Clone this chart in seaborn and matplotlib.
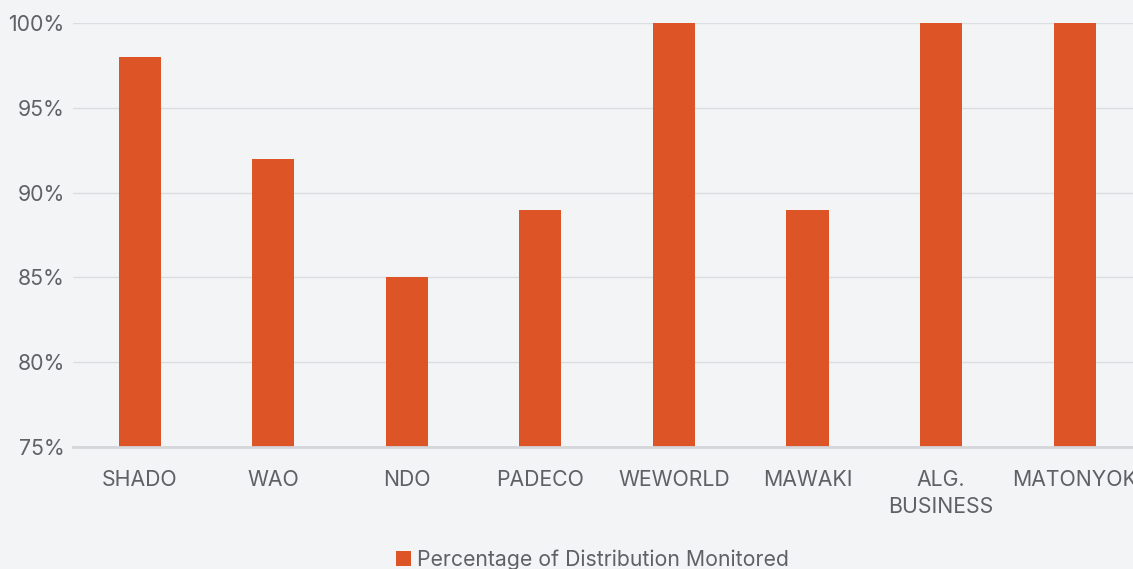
import numpy as np
import pandas as pd
import matplotlib
matplotlib.use('Agg')
import matplotlib.pyplot as plt
import seaborn as sns
from matplotlib.ticker import FuncFormatter

# data
partners = ['SHADO', 'WAO', 'NDO', 'PADECO', 'WEWORLD', 'MAWAKI', 'ALG.\nBUSINESS', 'MATONYOK']
monitored = [98, 92, 85, 89, 100, 89, 100, 100]
series_name = 'Percentage of Distribution Monitored'

df = pd.DataFrame({'partner': partners, 'pct': monitored, 'series': series_name})

bg = '#f3f4f6'
bar_color = '#dd5527'
text_color = '#5f6165'

sns.set_style('white')
plt.rcParams['font.family'] = ['Inter', 'DejaVu Sans']

fig = plt.figure(figsize=(11.33, 5.69), dpi=100, facecolor=bg)
ax = fig.add_axes([0.0644, 0.2144, 0.943, 0.7452])
ax.set_facecolor(bg)

sns.barplot(data=df, x='partner', y='pct', hue='series', palette=[bar_color],
            width=0.315, saturation=1, linewidth=0, ax=ax, zorder=3)

ax.set_ylim(75, 100)
ax.set_yticks([75, 80, 85, 90, 95, 100])
ax.yaxis.set_major_formatter(FuncFormatter(lambda v, p: f'{v:.0f}%'))
ax.grid(axis='y', color='#dcdde0', linewidth=1, zorder=0)
ax.set_xlabel('')
ax.set_ylabel('')

for s in ['top', 'right', 'left']:
    ax.spines[s].set_visible(False)
ax.spines['bottom'].set_color('#d5d6d9')
ax.spines['bottom'].set_linewidth(2)
ax.spines['bottom'].set_zorder(4)

ax.tick_params(axis='both', length=0, labelsize=15.3, colors=text_color)
ax.tick_params(axis='x', pad=16.5)
ax.tick_params(axis='y', pad=6)
for lab in ax.get_xticklabels():
    lab.set_linespacing(1.45)

ax.legend_.remove()
handles, labels = ax.get_legend_handles_labels()
fig.legend(handles, labels, loc='center', bbox_to_anchor=(0.523, 0.017), frameon=False,
           fontsize=15.3, labelcolor=text_color, handlelength=0.7, handleheight=0.7,
           handletextpad=0.3)

fig.savefig('out.png', dpi=100, facecolor=bg)
